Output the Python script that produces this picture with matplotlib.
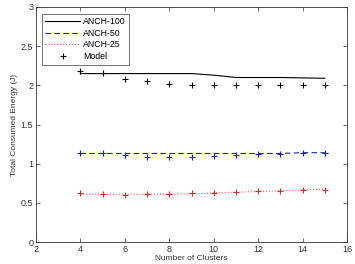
import matplotlib
matplotlib.use("Agg")
import matplotlib.pyplot as plt

plt.rcParams['font.family'] = ['Liberation Sans', 'DejaVu Sans']

clusters = [4, 5, 6, 7, 8, 9, 10, 11, 12, 13, 14, 15]
anch100 = [2.15, 2.15, 2.15, 2.15, 2.15, 2.15, 2.13, 2.10, 2.10, 2.10, 2.095, 2.09]
anch50 = [1.13, 1.13, 1.13, 1.13, 1.13, 1.13, 1.13, 1.13, 1.13, 1.13, 1.14, 1.14]
anch25 = [0.61, 0.61, 0.61, 0.61, 0.61, 0.615, 0.625, 0.635, 0.645, 0.655, 0.665, 0.675]
model100 = [2.18, 2.16, 2.08, 2.05, 2.02, 2.01, 2.01, 2.00, 2.00, 2.00, 2.00, 2.00]
model50 = [1.13, 1.13, 1.105, 1.085, 1.085, 1.08, 1.10, 1.11, 1.12, 1.12, 1.13, 1.13]
model25 = [0.62, 0.61, 0.60, 0.61, 0.61, 0.62, 0.63, 0.64, 0.645, 0.65, 0.66, 0.67]

fig = plt.figure(figsize=(3.55, 2.64), dpi=100)
ax = fig.add_axes([36/355, 22/264, 311/355, 235/264])

ax.plot(clusters, anch100, '-', color='black', lw=0.8, label='ANCH-100')
ax.plot(clusters, anch50, '--', color='#2020b0', lw=0.8, dashes=(5, 3), label='ANCH-50')
ax.plot(clusters, anch25, ':', color='#e06060', lw=0.8, label='ANCH-25')
ax.plot(clusters, model100, '+', color='black', ms=5, mew=0.8, label='Model')
ax.plot(clusters, model50, '+', color='#2020b0', ms=5, mew=0.8)
ax.plot(clusters, model25, '+', color='#d03030', ms=5, mew=0.8)

ax.set_xlim(2, 16)
ax.set_ylim(0, 3)
ax.set_xticks(range(2, 17, 2))
ax.set_yticks([0, 0.5, 1, 1.5, 2, 2.5, 3])
ax.set_yticklabels(['0', '0.5', '1', '1.5', '2', '2.5', '3'])
ax.tick_params(direction='in', top=True, right=True, labelsize=6.5, length=3, width=0.5, colors='#333333', pad=2)
for s in ax.spines.values():
    s.set_linewidth(0.6)
    s.set_color('#333333')
ax.set_xlabel('Number of Clusters', fontsize=6, labelpad=1, color='#333333')
ax.set_ylabel('Total Consumed Energy (J)', fontsize=6, labelpad=2, color='#333333')

leg = ax.legend(loc='upper left', fontsize=6.3, frameon=True, fancybox=False,
                edgecolor='#333333', borderpad=0.4, handlelength=4.0, handletextpad=0.3,
                labelspacing=0.3, bbox_to_anchor=(0.005, 0.99))
leg.get_frame().set_linewidth(0.6)

fig.savefig('out.png', dpi=100, facecolor='white')
